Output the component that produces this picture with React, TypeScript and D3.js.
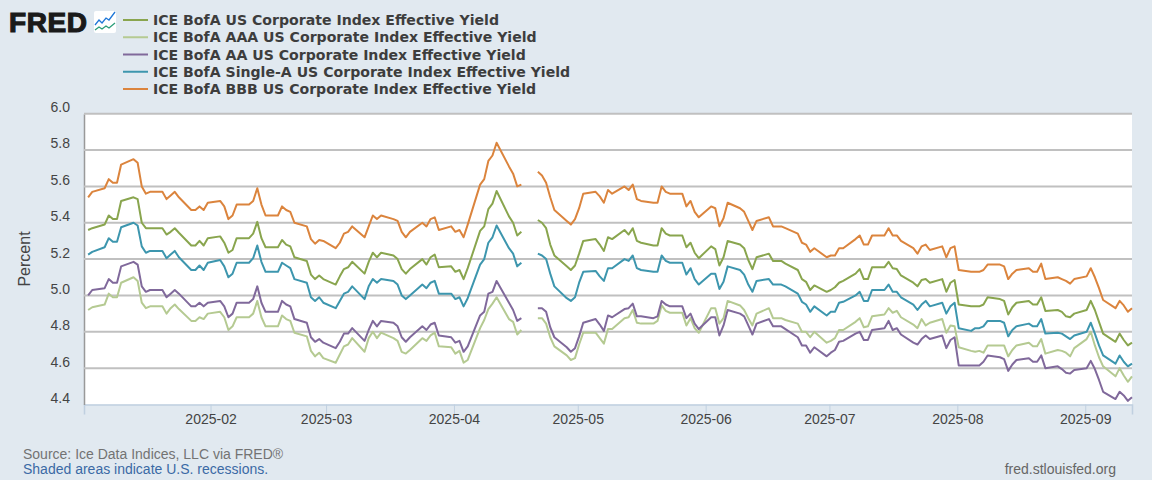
import { useEffect, useRef } from 'react';
import * as d3 from 'd3';

// business days, Jan 2 .. Sep 12 2025. Each row below is one week (Mon..Fri), first row is Thu/Fri
const dates = d3
  .utcDays(new Date(Date.UTC(2025, 0, 2)), new Date(Date.UTC(2025, 8, 13)))
  .filter((d) => d.getUTCDay() !== 0 && d.getUTCDay() !== 6);

const corporate = [
  5.36, 5.37,
  5.39, 5.44, 5.42, 5.42, 5.52,
  5.54, 5.53, 5.4, 5.37, 5.37,
  5.37, 5.335, 5.35, 5.37, 5.345,
  5.275, 5.275, 5.3, 5.275, 5.315,
  5.325, 5.29, 5.235, 5.25, 5.315,
  5.315, 5.34, 5.405, 5.315, 5.265,
  5.265, 5.305, 5.28, 5.27, 5.21,
  5.19, 5.115, 5.09, 5.11, 5.09,
  5.06, 5.105, 5.145, 5.155, 5.185,
  5.12, 5.185, 5.235, 5.21, 5.235,
  5.22, 5.2, 5.145, 5.12, 5.145,
  5.2, 5.17, 5.21, 5.225, 5.155,
  5.16, 5.13, 5.14, 5.09, 5.15,
  5.355, 5.38, 5.475, 5.505, 5.575,
  5.435, 5.4, 5.33, 5.35, null,
  5.415, 5.4, 5.37, 5.28, 5.22,
  5.16, 5.14, 5.165, 5.23, 5.3,
  5.31, 5.28, 5.245, 5.32, 5.31,
  5.36, 5.335, 5.37, 5.3, 5.29,
  5.275, 5.275, 5.37, 5.34, 5.33,
  5.33, 5.265, 5.29, 5.235, 5.205,
  5.27, 5.255, 5.165, 5.21, 5.3,
  5.28, 5.26, 5.195, 5.145, 5.21,
  5.23, 5.19, 5.19, 5.19, 5.175,
  5.14, 5.09, 5.075, 5.03, 5.055,
  5.02, 5.03, 5.045, 5.07, 5.08,
  5.12, 5.145, 5.09, 5.09, 5.155,
  5.155, 5.185, 5.15, 5.145, 5.11,
  5.07, 5.05, 5.085, 5.09, 5.07,
  5.09, 5.02, 5.07, 5.085, 4.95,
  4.94, 4.94, 4.94, 4.95, 4.99,
  4.98, 4.97, 4.895, 4.935, 4.96,
  4.97, 4.95, 4.95, 4.99, 4.915,
  4.92, 4.91, 4.885, 4.88, 4.9,
  4.92, 4.97, 4.92, 4.855, 4.79,
  4.745, 4.79, 4.755, 4.725, 4.74,
];

const aaa = [
  4.92, 4.935,
  4.95, 5.01, 4.99, 4.99, 5.07,
  5.1, 5.08, 4.96, 4.93, 4.94,
  4.94, 4.9, 4.93, 4.95, 4.925,
  4.86, 4.86, 4.88, 4.87, 4.9,
  4.91, 4.88, 4.81, 4.83, 4.88,
  4.88, 4.9, 4.97, 4.88, 4.83,
  4.83, 4.89, 4.87, 4.86, 4.795,
  4.775, 4.695, 4.665, 4.685, 4.655,
  4.63, 4.675, 4.72, 4.73, 4.765,
  4.69, 4.765, 4.8, 4.765, 4.795,
  4.765, 4.75, 4.69, 4.68, 4.7,
  4.765, 4.75, 4.78, 4.795, 4.72,
  4.715, 4.68, 4.695, 4.63, 4.645,
  4.82, 4.865, 4.925, 4.955, 4.99,
  4.87, 4.855, 4.785, 4.81, null,
  4.875, 4.875, 4.845, 4.77, 4.72,
  4.67, 4.645, 4.655, 4.73, 4.795,
  4.795, 4.765, 4.735, 4.815, 4.815,
  4.875, 4.88, 4.92, 4.85, 4.845,
  4.845, 4.86, 4.945, 4.915, 4.905,
  4.905, 4.835, 4.875, 4.82, 4.795,
  4.93, 4.93, 4.845, 4.875, 4.97,
  4.945, 4.92, 4.875, 4.835, 4.9,
  4.93, 4.875, 4.875, 4.875, 4.865,
  4.845, 4.8, 4.8, 4.77, 4.8,
  4.74, 4.75, 4.765, 4.81, 4.81,
  4.855, 4.875, 4.825, 4.83, 4.885,
  4.895, 4.93, 4.905, 4.915, 4.88,
  4.84, 4.82, 4.87, 4.835, 4.85,
  4.87, 4.795, 4.835, 4.83, 4.715,
  4.695, 4.69, 4.695, 4.685, 4.725,
  4.725, 4.725, 4.665, 4.7, 4.725,
  4.74, 4.72, 4.72, 4.76, 4.68,
  4.7, 4.695, 4.685, 4.665, 4.71,
  4.76, 4.8, 4.725, 4.66, 4.61,
  4.555, 4.6, 4.56, 4.525, 4.555,
];

const aa = [
  5.0, 5.03,
  5.04, 5.09, 5.07, 5.07, 5.16,
  5.185, 5.17, 5.05, 5.02, 5.03,
  5.03, 4.99, 5.01, 5.03, 5.01,
  4.94, 4.94, 4.96, 4.94, 4.96,
  4.97, 4.94, 4.88, 4.9, 4.96,
  4.96, 4.98, 5.05, 4.96, 4.91,
  4.91, 4.97, 4.95, 4.94, 4.87,
  4.85, 4.77, 4.745, 4.76, 4.74,
  4.71, 4.745, 4.79, 4.79, 4.82,
  4.75, 4.81, 4.86, 4.83, 4.86,
  4.85, 4.83, 4.77, 4.745, 4.77,
  4.83, 4.81, 4.84, 4.85, 4.78,
  4.77, 4.74, 4.75, 4.69, 4.72,
  4.89, 4.91, 5.01, 5.02, 5.08,
  4.96, 4.92, 4.86, 4.875, null,
  4.93, 4.93, 4.91, 4.825, 4.77,
  4.715, 4.69, 4.71, 4.775, 4.85,
  4.87, 4.84, 4.805, 4.89, 4.88,
  4.925, 4.93, 4.955, 4.885, 4.885,
  4.875, 4.885, 4.97, 4.95, 4.94,
  4.94, 4.875, 4.9, 4.845, 4.815,
  4.88, 4.88, 4.78, 4.835, 4.92,
  4.9, 4.885, 4.835, 4.785, 4.845,
  4.87, 4.83, 4.83, 4.83, 4.815,
  4.77, 4.725, 4.725, 4.685, 4.715,
  4.665, 4.685, 4.7, 4.745, 4.75,
  4.79, 4.8, 4.755, 4.755, 4.81,
  4.82, 4.86, 4.81, 4.82, 4.785,
  4.74, 4.73, 4.76, 4.78, 4.76,
  4.78, 4.71, 4.755, 4.77, 4.615,
  4.615, 4.615, 4.615, 4.635, 4.67,
  4.66, 4.65, 4.585, 4.62, 4.645,
  4.655, 4.635, 4.635, 4.67, 4.6,
  4.61, 4.595, 4.575, 4.57, 4.59,
  4.6, 4.64, 4.595, 4.535, 4.47,
  4.43, 4.47, 4.45, 4.42, 4.44,
];

const singleA = [
  5.225, 5.24,
  5.265, 5.315, 5.295, 5.295, 5.375,
  5.4, 5.385, 5.27, 5.235, 5.245,
  5.245, 5.205, 5.225, 5.245, 5.21,
  5.14, 5.14, 5.165, 5.14, 5.18,
  5.195, 5.16, 5.1, 5.12, 5.18,
  5.18, 5.205, 5.275, 5.185, 5.13,
  5.13, 5.18, 5.165, 5.15, 5.09,
  5.07, 4.99, 4.97, 4.99, 4.96,
  4.93, 4.97, 5.01, 5.02, 5.05,
  4.98, 5.05, 5.09, 5.07, 5.09,
  5.08, 5.06, 5.0, 4.98, 5.0,
  5.06, 5.04, 5.07, 5.08, 5.01,
  5.01, 4.98, 4.99, 4.94, 4.985,
  5.17, 5.2, 5.29, 5.32, 5.385,
  5.26, 5.23, 5.16, 5.18, null,
  5.23, 5.22, 5.2, 5.12, 5.05,
  4.985, 4.97, 4.99, 5.07, 5.13,
  5.135, 5.105, 5.08, 5.15, 5.15,
  5.2, 5.19, 5.22, 5.15, 5.14,
  5.13, 5.13, 5.22, 5.19, 5.18,
  5.18, 5.115, 5.15, 5.09, 5.06,
  5.12, 5.12, 5.035, 5.075, 5.16,
  5.14, 5.115, 5.06, 5.02, 5.08,
  5.09, 5.06, 5.06, 5.06, 5.05,
  5.01, 4.965, 4.95, 4.91, 4.94,
  4.89, 4.91, 4.91, 4.96, 4.965,
  5.0, 5.02, 4.97, 4.97, 5.03,
  5.03, 5.06, 5.02, 5.02, 4.99,
  4.95, 4.92, 4.95, 4.97, 4.94,
  4.96, 4.9, 4.94, 4.96, 4.82,
  4.805, 4.82, 4.82, 4.83, 4.86,
  4.86, 4.85, 4.775, 4.81, 4.83,
  4.845, 4.83, 4.83, 4.87, 4.79,
  4.795, 4.79, 4.775, 4.76, 4.78,
  4.8, 4.85, 4.79, 4.725, 4.67,
  4.625, 4.67, 4.635, 4.61, 4.625,
];

const bbb = [
  5.54, 5.57,
  5.59, 5.64, 5.62, 5.62, 5.72,
  5.75, 5.73, 5.6, 5.56, 5.57,
  5.57, 5.53, 5.55, 5.57, 5.54,
  5.47, 5.47, 5.49, 5.47, 5.51,
  5.52, 5.49, 5.42, 5.44, 5.5,
  5.5, 5.52, 5.59, 5.5, 5.44,
  5.44, 5.49, 5.47, 5.46, 5.4,
  5.38, 5.31, 5.285, 5.305, 5.3,
  5.26, 5.29, 5.34, 5.35, 5.38,
  5.32, 5.38, 5.44, 5.42, 5.44,
  5.42, 5.41, 5.35, 5.32, 5.35,
  5.4, 5.38, 5.42, 5.43, 5.36,
  5.38, 5.35, 5.36, 5.32, 5.39,
  5.61, 5.64, 5.74, 5.77, 5.84,
  5.71, 5.67, 5.6, 5.61, null,
  5.68, 5.66, 5.62, 5.54, 5.47,
  5.41, 5.39, 5.42, 5.48, 5.56,
  5.57, 5.545, 5.51, 5.58, 5.56,
  5.6, 5.58, 5.61, 5.53, 5.52,
  5.51, 5.51, 5.6, 5.57, 5.56,
  5.56, 5.49, 5.52, 5.46, 5.43,
  5.49, 5.48, 5.38, 5.425, 5.51,
  5.48, 5.46, 5.41, 5.36, 5.41,
  5.43, 5.38, 5.38, 5.38, 5.37,
  5.34, 5.29, 5.28, 5.24, 5.26,
  5.21, 5.22, 5.22, 5.26, 5.26,
  5.31, 5.33, 5.28, 5.28, 5.33,
  5.33, 5.37, 5.33, 5.33, 5.3,
  5.26, 5.23, 5.27, 5.28, 5.25,
  5.27, 5.21, 5.26, 5.27, 5.14,
  5.13, 5.13, 5.13, 5.14, 5.17,
  5.17, 5.16, 5.09, 5.12, 5.14,
  5.15, 5.13, 5.13, 5.175, 5.09,
  5.1, 5.09, 5.08, 5.065, 5.09,
  5.105, 5.15, 5.1, 5.04, 4.975,
  4.93, 4.97, 4.945, 4.91, 4.93,
];

const seriesNames = [
  'ICE BofA US Corporate Index Effective Yield',
  'ICE BofA AAA US Corporate Index Effective Yield',
  'ICE BofA AA US Corporate Index Effective Yield',
  'ICE BofA Single-A US Corporate Index Effective Yield',
  'ICE BofA BBB US Corporate Index Effective Yield',
];
const seriesValues = [corporate, aaa, aa, singleA, bbb];
const seriesColors = ['#89a54e', '#b5ca92', '#80699b', '#3d96ae', '#db843d'];

const yTicks = [4.4, 4.6, 4.8, 5.0, 5.2, 5.4, 5.6, 5.8, 6.0];
const xTickMonths = [1, 2, 3, 4, 5, 6, 7, 8];

const width = 1152;
const height = 480;
const margin = { top: 113.7, right: 20, bottom: 75.5, left: 84 };
const tickFont = '"Liberation Sans", Arial, sans-serif';

export default function App() {
  const svgRef = useRef<SVGSVGElement>(null);

  useEffect(() => {
    const svg = d3.select(svgRef.current);
    svg.selectAll('*').remove();

    const x = d3
      .scaleUtc()
      .domain([new Date(Date.UTC(2025, 0, 1)), new Date(Date.UTC(2025, 8, 12))])
      .range([margin.left, width - margin.right]);
    const y = d3
      .scaleLinear()
      .domain([4.4, 6])
      .range([height - margin.bottom, margin.top]);

    svg.append('rect').attr('width', width).attr('height', height).attr('fill', '#e1e9f0');
    svg
      .append('rect')
      .attr('x', margin.left)
      .attr('y', margin.top)
      .attr('width', width - margin.left - margin.right)
      .attr('height', height - margin.top - margin.bottom)
      .attr('fill', '#ffffff');

    // FRED labels its month ticks a few hours before midnight UTC
    const xTicks = xTickMonths.map((m) => new Date(Date.UTC(2025, m, 1, -8)));

    // Axes
    const gx = svg
      .append('g')
      .attr('transform', `translate(0,${height - margin.bottom})`)
      .call(
        d3
          .axisBottom(x)
          .tickValues(xTicks)
          .tickSize(10)
          .tickPadding(0)
          .tickFormat((d) => d3.utcFormat('%Y-%m')(new Date((d as Date).getTime() + 864e5))),
      );
    gx.selectAll('.tick line').attr('stroke', '#c0d0e0');
    gx.select('.domain').attr('stroke', '#c0d0e0').attr('stroke-width', 1.5);
    gx.selectAll('text').attr('font-size', 14).attr('font-family', tickFont).attr('fill', '#444444');

    const gy = svg
      .append('g')
      .attr('transform', `translate(${margin.left},0)`)
      .call(
        d3
          .axisLeft(y)
          .tickValues(yTicks)
          .tickSize(0)
          .tickPadding(14)
          .tickFormat((d) => d3.format('.1f')(d as number)),
      );
    gy.select('.domain').attr('stroke', '#999999').attr('stroke-width', 1.5);
    // labels sit above their gridline in the reference
    gy.selectAll('text')
      .attr('dy', '-0.15em')
      .attr('font-size', 14)
      .attr('font-family', tickFont)
      .attr('fill', '#444444');

    // Grid
    svg
      .append('g')
      .selectAll('line')
      .data(yTicks.filter((t) => t > 4.4))
      .join('line')
      .attr('x1', margin.left)
      .attr('x2', width - margin.right)
      .attr('y1', (d) => y(d))
      .attr('y2', (d) => y(d))
      .attr('stroke', '#c0c0c0')
      .attr('stroke-width', 2);

    // Lines
    const line = d3
      .line<number | null>()
      .defined((d) => d !== null)
      .x((_, i) => x(dates[i]))
      .y((d) => y(d as number));

    seriesValues.forEach((values, i) => {
      svg
        .append('path')
        .datum(values)
        .attr('d', line)
        .attr('fill', 'none')
        .attr('stroke', seriesColors[i])
        .attr('stroke-width', 2)
        .attr('stroke-linejoin', 'round');
    });

    // Legend
    const legend = svg.append('g');
    seriesNames.forEach((name, i) => {
      const ly = 20 + i * 17.25;
      legend
        .append('line')
        .attr('x1', 123)
        .attr('x2', 148)
        .attr('y1', ly)
        .attr('y2', ly)
        .attr('stroke', seriesColors[i])
        .attr('stroke-width', 2);
      legend
        .append('text')
        .attr('x', 153)
        .attr('y', ly + 5)
        .attr('font-size', 14.1)
        .attr('font-weight', 'bold')
        .attr('font-family', '"DejaVu Sans", Verdana, sans-serif')
        .attr('fill', '#3d3d3d')
        .text(name);
    });

    // Y title
    svg
      .append('text')
      .attr('transform', `translate(30,259) rotate(-90)`)
      .attr('text-anchor', 'middle')
      .attr('font-size', 16)
      .attr('font-family', tickFont)
      .attr('fill', '#444444')
      .text('Percent');

    // Footer
    svg
      .append('text')
      .attr('x', 23)
      .attr('y', 459)
      .attr('font-size', 14)
      .attr('font-family', tickFont)
      .attr('fill', '#737373')
      .text('Source: Ice Data Indices, LLC via FRED®');
    svg
      .append('text')
      .attr('x', 23)
      .attr('y', 474)
      .attr('font-size', 14)
      .attr('font-family', tickFont)
      .attr('fill', '#3b6aa5')
      .text('Shaded areas indicate U.S. recessions.');
    svg
      .append('text')
      .attr('x', 1116)
      .attr('y', 474)
      .attr('text-anchor', 'end')
      .attr('font-size', 14)
      .attr('font-family', tickFont)
      .attr('fill', '#666666')
      .text('fred.stlouisfed.org');

    // Logo
    svg
      .append('text')
      .attr('x', 9)
      .attr('y', 32)
      .attr('font-size', 28)
      .attr('font-weight', 'bold')
      .attr('font-family', '"Liberation Sans", Arial, sans-serif')
      .attr('fill', '#1a1a1a')
      .attr('stroke', '#1a1a1a')
      .attr('stroke-width', 1.2)
      .attr('textLength', 78)
      .text('FRED');
    const logo = svg.append('g').attr('transform', 'translate(94,11)');
    logo.append('rect').attr('width', 22).attr('height', 22).attr('rx', 2).attr('fill', '#ffffff');
    logo
      .append('path')
      .attr('d', 'M1 14 L5 9 L8 12 L12 7 L15 9 L21 1')
      .attr('fill', 'none')
      .attr('stroke', '#1f77d8')
      .attr('stroke-width', 1.3);
    logo
      .append('path')
      .attr('d', 'M1 19 L5 16 L8 18 L12 15 L15 17 L21 12')
      .attr('fill', 'none')
      .attr('stroke', '#2a9d78')
      .attr('stroke-width', 1.3);
  }, []);

  return (
    <svg
      ref={svgRef}
      width={width}
      height={height}
      style={{ position: 'absolute', left: 0, top: 0, display: 'block' }}
    />
  );
}
